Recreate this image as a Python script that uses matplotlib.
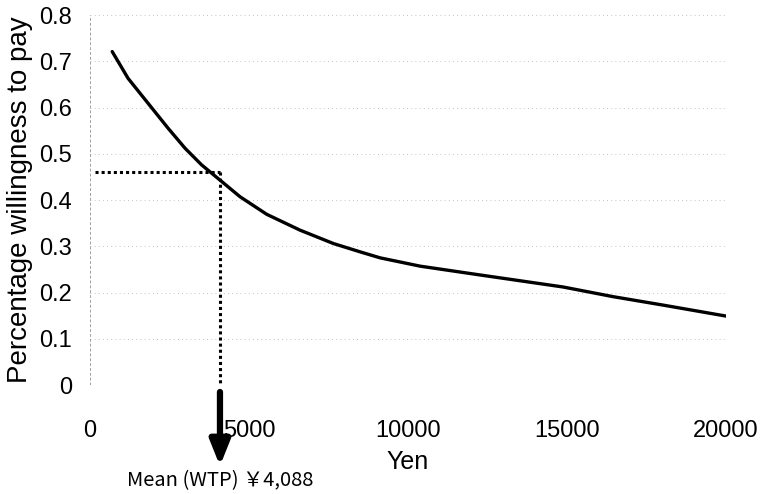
import matplotlib
matplotlib.use("Agg")
import matplotlib.pyplot as plt

# Willingness-to-pay curve
yen = [700, 890, 1200, 1620, 2040, 2460, 2990, 3510, 4090, 4720, 5560,
       6600, 7650, 8490, 9120, 10380, 12260, 14870, 16450, 18000, 20000]
wtp = [0.721, 0.699, 0.663, 0.627, 0.591, 0.555, 0.512, 0.476, 0.443, 0.407,
       0.369, 0.335, 0.306, 0.288, 0.275, 0.257, 0.238, 0.212, 0.191, 0.173,
       0.149]

mean_wtp = 4088
mean_level = 0.46

x_ticks = [0, 5000, 10000, 15000, 20000]
y_ticks = [0, 0.1, 0.2, 0.3, 0.4, 0.5, 0.6, 0.7, 0.8]
y_tick_labels = ["0", "0.1", "0.2", "0.3", "0.4", "0.5", "0.6", "0.7", "0.8"]

plt.rcParams["font.family"] = ["Liberation Sans", "DejaVu Sans"]

fig = plt.figure(figsize=(7.62, 4.94), dpi=100)
ax = fig.add_axes([0.118, 0.2206, 0.835, 0.749])

ax.set_xlim(0, 20000)
ax.set_ylim(0, 0.8)

# faint scanned-looking grid
for yv in y_ticks:
    ax.axhline(yv, color="#b0b0b0", lw=0.6, ls=(0, (1, 4)), zorder=0)
for xv in (0, 20000):
    ax.axvline(xv, color="#a0a0a0", lw=0.7, ls=(0, (3, 2)), zorder=0)

for s in ax.spines.values():
    s.set_visible(False)

ax.plot(yen, wtp, color="black", lw=2.4, solid_capstyle="round",
        solid_joinstyle="round", zorder=3)

# mean WTP guide lines
ax.plot([160, mean_wtp], [mean_level, mean_level], color="black",
        lw=2.2, ls=(0, (1, 1)), zorder=2)
ax.plot([mean_wtp, mean_wtp], [mean_level, 0], color="black",
        lw=2.2, ls=(0, (1, 1)), zorder=2)

ax.annotate("", xy=(mean_wtp, -0.175), xytext=(mean_wtp, -0.015),
            arrowprops=dict(arrowstyle="-|>,head_width=0.3,head_length=0.75",
                            lw=4.5, color="black", mutation_scale=20,
                            shrinkA=0, shrinkB=0),
            annotation_clip=False)
ax.text(mean_wtp, -0.207, "Mean (WTP) \uffe54,088", ha="center", va="center",
        fontsize=14.5, family=["Liberation Sans Narrow", "Noto Sans CJK JP"],
        clip_on=False)

ax.set_xticks(x_ticks)
ax.set_xticklabels([str(v) for v in x_ticks])
ax.set_yticks(y_ticks)
ax.set_yticklabels(y_tick_labels)
ax.tick_params(axis="both", length=0, labelsize=17)
ax.tick_params(axis="x", pad=25)
ax.tick_params(axis="y", pad=13)

ax.set_xlabel("Yen", fontsize=18, labelpad=6)
ax.set_ylabel("Percentage willingness to pay", fontsize=20, labelpad=4)

fig.savefig("out.png", dpi=100)
